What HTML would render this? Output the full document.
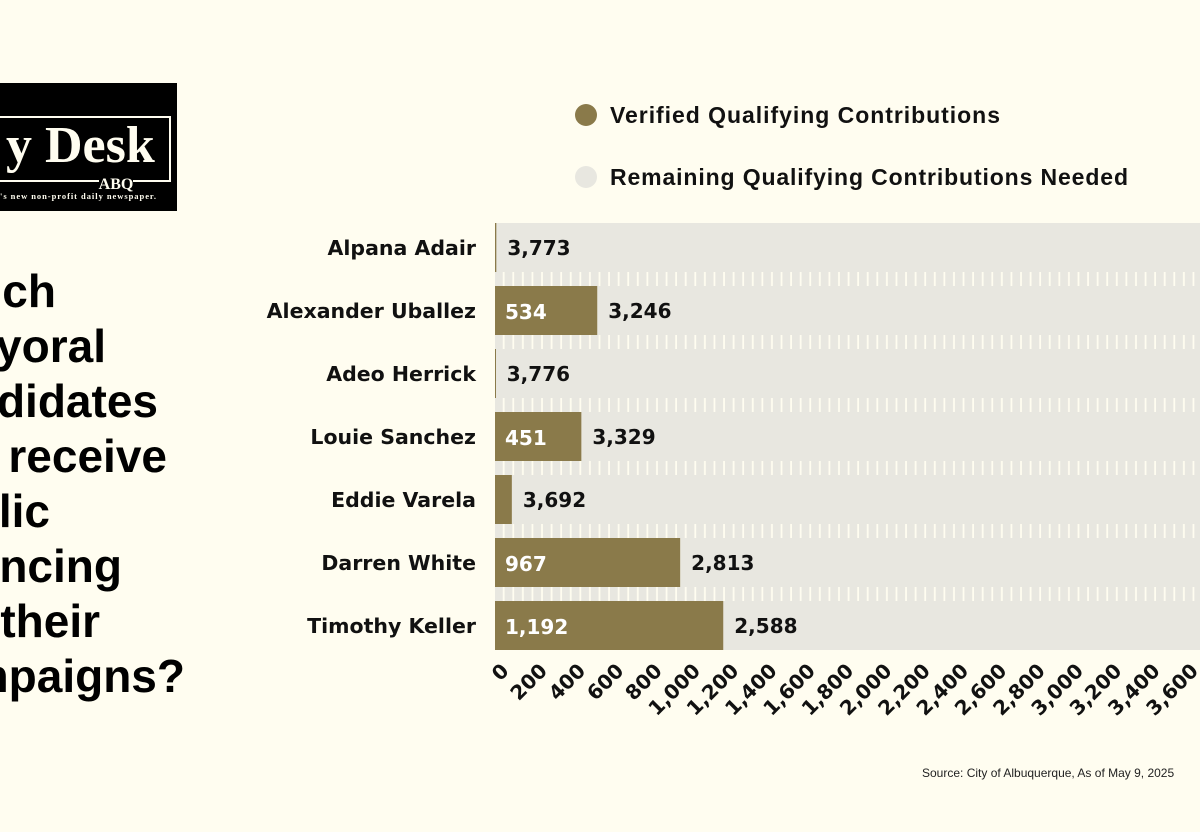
<!DOCTYPE html>
<html><head><meta charset="utf-8"><style>
html,body{margin:0;padding:0;background:#fffdf0;}
svg{display:block;font-family:"Liberation Sans",sans-serif;}
</style></head><body>
<svg id="chart" width="1200" height="832" viewBox="0 0 1200 832">
<defs>
<pattern id="stripes" x="495" y="0" width="9.58" height="20" patternUnits="userSpaceOnUse">
<rect x="0" y="0" width="7.8" height="20" fill="#e8e7e0"/>
</pattern>
</defs>
<rect width="1200" height="832" fill="#fffdf0"/>
<g>
<rect x="0" y="83" width="177" height="128" fill="#000"/>
<path d="M0 117 H170 V181 H133 M99 181 H0" fill="none" stroke="#fffdf0" stroke-width="2"/>
<text x="6" y="162" font-family="Liberation Serif,serif" font-weight="bold" font-size="52" fill="#fffdf0">y Desk</text>
<text x="116" y="189" font-family="Liberation Serif,serif" font-weight="bold" font-size="16" fill="#fffdf0" text-anchor="middle">ABQ</text>
<text x="0" y="199" font-family="Liberation Serif,serif" font-weight="bold" font-size="8.5" fill="#fffdf0" textLength="156">'s new non-profit daily newspaper.</text>
</g>
<g font-weight="bold" font-size="46" fill="#000" text-anchor="end">
<text x="56" y="307">ich</text>
<text x="106" y="362">yoral</text>
<text x="158" y="417">didates</text>
<text x="167" y="472">l receive</text>
<text x="50" y="527">lic</text>
<text x="122" y="582">ncing</text>
<text x="100" y="637">their</text>
<text x="185" y="692">mpaigns?</text>
</g>
<g font-weight="bold" font-size="23" fill="#111">
<circle cx="586" cy="115" r="11" fill="#8a7a4a"/>
<text x="610" y="123" textLength="390">Verified Qualifying Contributions</text>
<circle cx="586" cy="177" r="11" fill="#e8e7e0"/>
<text x="610" y="185" textLength="518">Remaining Qualifying Contributions Needed</text>
</g>
<g id="plot"></g>
<text x="922" y="777" font-size="12" fill="#222">Source: City of Albuquerque, As of May 9, 2025</text>
</svg>
<script>
const candidates = ["Alpana Adair","Alexander Uballez","Adeo Herrick","Louie Sanchez","Eddie Varela","Darren White","Timothy Keller"];
const verified = [7,534,4,451,88,967,1192];
const remaining = [3773,3246,3776,3329,3692,2813,2588];
const tickValues = [0,200,400,600,800,1000,1200,1400,1600,1800,2000,2200,2400,2600,2800,3000,3200,3400,3600];

const NS="http://www.w3.org/2000/svg";
const plot=document.getElementById('plot');
const x0=495, pxPer=0.1915, top0=223, pitch=63, barH=49;
const xs=v=>x0+v*pxPer;
const ys=i=>top0+i*pitch;
const DV='"DejaVu Sans","Liberation Sans",sans-serif';
function mk(tag,attrs,txt){const e=document.createElementNS(NS,tag);for(const k in attrs)e.setAttribute(k,attrs[k]);if(txt!==undefined)e.textContent=txt;plot.appendChild(e);return e;}
const fmt=v=>v.toLocaleString('en-US');
const n=candidates.length;
for(let i=0;i<n-1;i++){
  const g=mk('rect',{x:x0,y:ys(i)+barH,width:1200-x0,height:pitch-barH,fill:'url(#stripes)'});
  
  
}
candidates.forEach((c,i)=>{
  const y=ys(i);
  const r=mk('rect',{x:xs(verified[i]),y:y,width:xs(verified[i]+remaining[i])-xs(verified[i]),height:barH,fill:'#e8e7e0'});
  
  
  const b=mk('rect',{x:x0,y:y,width:Math.max(1,xs(verified[i])-x0),height:barH,fill:'#8a7a4a'});
  
  
  const l=mk('text',{x:476,y:y+32,'text-anchor':'end','font-weight':'bold','font-size':'20.5','font-family':DV,fill:'#111'},c);
  
  
  if(verified[i]>=300){
    const v=mk('text',{x:x0+10,y:y+33,'font-weight':'bold','font-size':'20','font-family':DV,fill:'#fff'},fmt(verified[i]));
    
    
  }
  const rv=mk('text',{x:Math.max(xs(verified[i]),x0)+11,y:y+32,'font-weight':'bold','font-size':'20','font-family':DV,fill:'#111'},fmt(remaining[i]));
  
  
});
tickValues.forEach(t=>{
  const x=xs(t)+15, y=672;
  const tx=mk('text',{x:x,y:y,'text-anchor':'end','font-weight':'bold','font-size':'20','font-family':DV,fill:'#111',transform:`rotate(-45 ${x} ${y})`},fmt(t));
  
  
});
</script>
</body></html>
